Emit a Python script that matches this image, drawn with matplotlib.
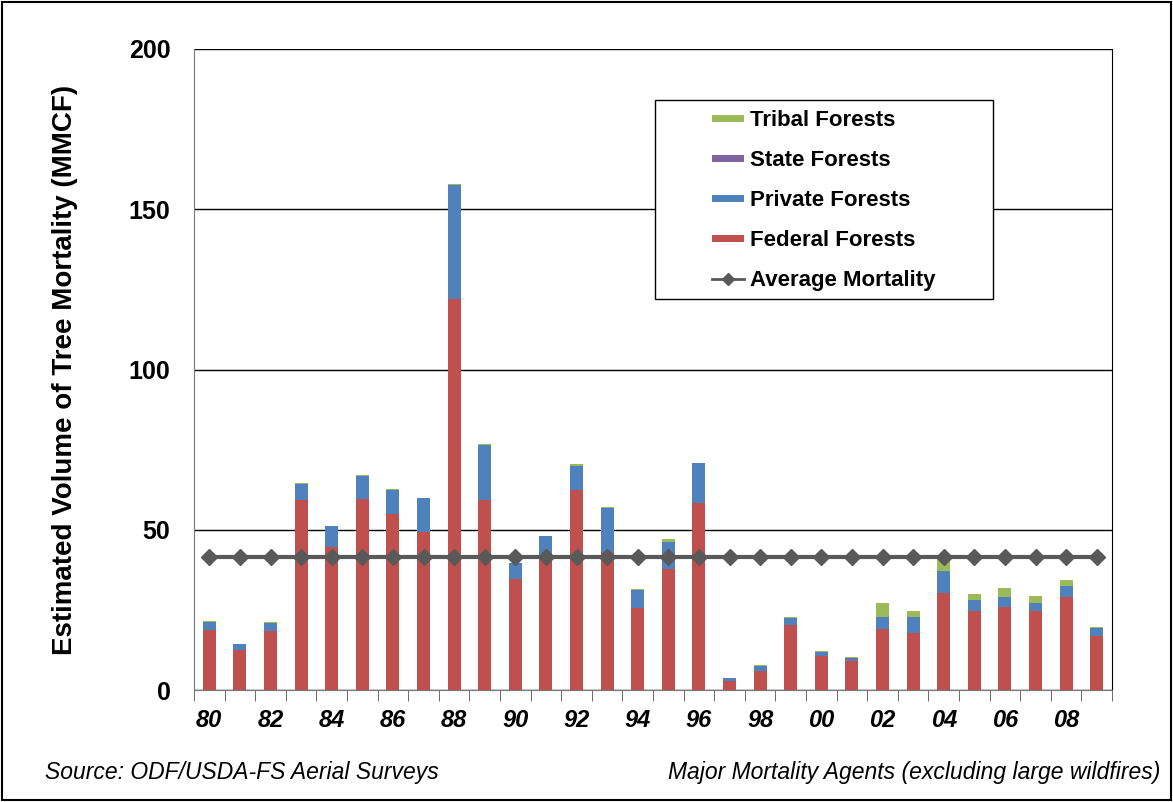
import numpy as np
import matplotlib.pyplot as plt
from matplotlib import font_manager

years = list(range(1980, 2010))
federal = [18.7, 12.5, 18.5, 59.3, 44.7, 59.5, 54.9, 49.4, 121.9, 59.3,
           34.6, 40.9, 62.4, 43.0, 25.7, 37.6, 58.5, 2.9, 6.0, 20.3,
           10.7, 9.0, 18.9, 17.9, 30.4, 24.7, 26.0, 24.7, 29.1, 16.8]
private = [2.6, 1.7, 2.5, 5.0, 6.4, 7.4, 7.5, 10.4, 35.7, 17.2,
           4.9, 7.1, 7.5, 13.9, 5.5, 8.6, 12.2, 0.7, 1.5, 2.2,
           1.3, 0.8, 4.0, 5.0, 6.7, 3.4, 2.9, 2.4, 3.3, 2.6]
state = [0.0, 0.0, 0.0, 0.0, 0.0, 0.0, 0.0, 0.0, 0.0, 0.0,
         0.0, 0.0, 0.0, 0.0, 0.0, 0.0, 0.0, 0.0, 0.0, 0.0,
         0.0, 0.3, 0.0, 0.0, 0.0, 0.0, 0.0, 0.0, 0.0, 0.0]
tribal = [0.2, 0.2, 0.2, 0.2, 0.2, 0.2, 0.2, 0.2, 0.2, 0.2,
          0.2, 0.2, 0.5, 0.2, 0.2, 0.8, 0.2, 0.3, 0.2, 0.3,
          0.2, 0.2, 4.1, 1.8, 4.0, 1.9, 2.9, 2.1, 1.8, 0.2]
average = 41.5

narrow = 'Liberation Sans Narrow'
names = {f.name for f in font_manager.fontManager.ttflist}
have_narrow = narrow in names
if not have_narrow:
    narrow = 'Liberation Sans'
plt.rcParams['font.family'] = ['Liberation Sans', 'DejaVu Sans']

W, H = 1173, 802
fig = plt.figure(figsize=(W / 100, H / 100), dpi=100)
ax = fig.add_axes([194 / W, 1 - 690 / H, 918 / W, 641 / H])

x = np.arange(len(years))
w = 0.42
fed = np.array(federal)
pri = np.array(private)
sta = np.array(state)
tri = np.array(tribal)
ax.bar(x, fed, w, color='#C0504D', label='Federal Forests', zorder=3)
ax.bar(x, pri, w, bottom=fed, color='#4F81BD', label='Private Forests', zorder=3)
ax.bar(x, sta, w, bottom=fed + pri, color='#8064A2', label='State Forests', zorder=3)
ax.bar(x, tri, w, bottom=fed + pri + sta, color='#9BBB59', label='Tribal Forests', zorder=3)
ax.plot(x, [average] * len(x), color='#595959', lw=3, marker='D', ms=8,
        label='Average Mortality', zorder=4)

ax.set_xlim(-0.5, len(years) - 0.5)
ax.set_ylim(0, 200)
ax.set_yticks([0, 50, 100, 150, 200])
ax.yaxis.grid(True, color='black', lw=1, zorder=0)
ax.tick_params(axis='y', length=0, pad=17, labelsize=18)
for t in ax.get_yticklabels():
    t.set_fontweight('bold')

ax.set_xticks(x[::2])
ax.set_xticklabels(['%02d' % (y % 100) for y in years[::2]],
                   fontsize=19 if have_narrow else 17, fontweight='bold',
                   style='italic', family=narrow)
ax.set_xticks(np.arange(-0.5, len(years)), minor=True)
ax.tick_params(axis='x', which='major', length=0, pad=14)
ax.tick_params(axis='x', which='minor', length=8, color='#555555', direction='out')

ax.spines['top'].set_visible(False)
ax.spines['left'].set_color('#777777')
ax.spines['bottom'].set_color('#777777')
ax.spines['right'].set_color('black')

ax.set_ylabel('Estimated Volume of Tree Mortality (MMCF)', fontsize=20,
              fontweight='bold')
ax.yaxis.set_label_coords((78 - 194) / 918, 0.5)

# legend: entries without frame, box drawn separately
handles, labels = ax.get_legend_handles_labels()
order = [labels.index(l) for l in ['Tribal Forests', 'State Forests', 'Private Forests',
                                   'Federal Forests', 'Average Mortality']]
leg = ax.legend([handles[i] for i in order], [labels[i] for i in order],
                loc='upper left', bbox_to_anchor=((712 - 194) / 918, (690 - 110) / 641),
                frameon=False, prop={'weight': 'bold', 'size': 16},
                labelspacing=0.86, borderpad=0, handlelength=1.45,
                handletextpad=0.25, borderaxespad=0)
for h in leg.legend_handles[:4]:
    h.set_height(5)
    h.set_y(3)
leg.legend_handles[4].set_markersize(6)
leg.legend_handles[4].set_linewidth(2)
box = plt.Rectangle(((655 - 194) / 918, (690 - 299) / 641), 338 / 918, 199 / 641,
                    transform=ax.transAxes, facecolor='white', edgecolor='black',
                    lw=1, zorder=5)
ax.add_patch(box)
leg.set_zorder(6)

fs = 17 if have_narrow else 16.5
fig.text(45 / W, 1 - 773 / H, 'Source: ODF/USDA-FS Aerial Surveys',
         fontsize=fs, style='italic', family=narrow, va='center', ha='left')
fig.text(1160 / W, 1 - 773 / H, 'Major Mortality Agents (excluding large wildfires)',
         fontsize=fs, style='italic', family=narrow, va='center', ha='right')

border = plt.Rectangle((0.002, 0.002), 0.996, 0.996, transform=fig.transFigure,
                       fill=False, edgecolor='black', lw=1.5)
fig.patches.append(border)

fig.savefig('out.png', dpi=100)
